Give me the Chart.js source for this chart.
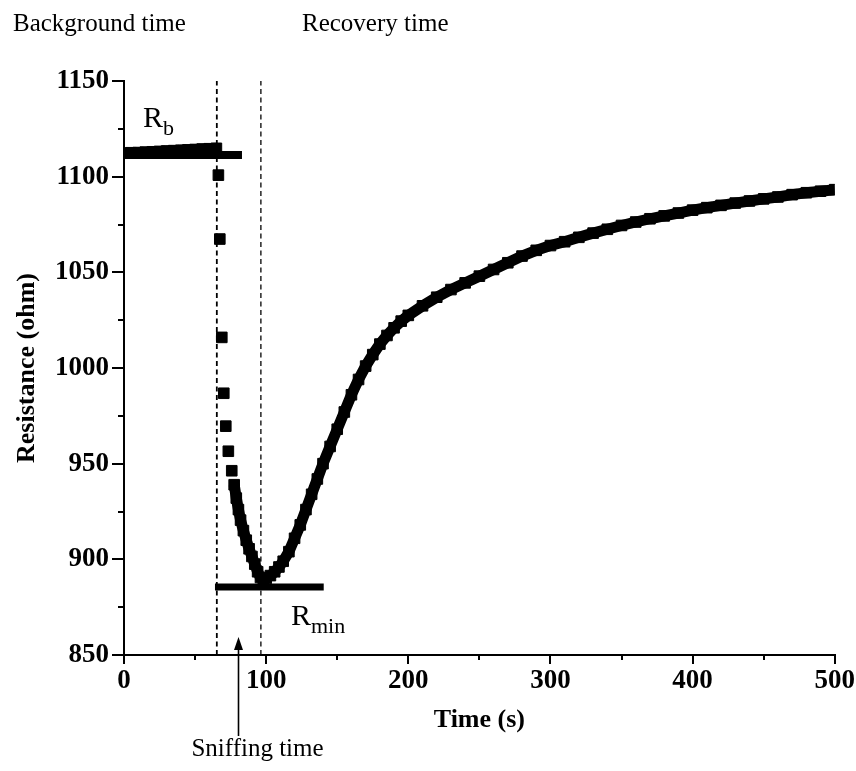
<!DOCTYPE html>
<html>
<head>
<meta charset="utf-8">
<script src="https://cdn.jsdelivr.net/npm/chart.js@4/dist/chart.umd.min.js"></script>
<style>
  html, body { margin: 0; padding: 0; background: #fff; }
  #chart { display: block; }
</style>
</head>
<body>
<canvas id="chart" width="856" height="771"></canvas>
<script>
/* ---- Data ---- */
// background (before sniffing), s / ohm
const bgTime = [0, 5, 10, 15, 20, 25, 30, 35, 40, 45, 50, 55, 60, 65];
const bgRes  = [1112.3, 1112.5, 1112.6, 1112.8, 1113.0, 1113.2, 1113.4, 1113.6, 1113.8, 1114.0, 1114.2, 1114.4, 1114.6, 1114.8];

// fast drop, separate squares
const dropTime = [66.4, 67.4, 68.8, 70.2, 71.6, 73.4, 75.8];
const dropRes  = [1100.8, 1067.4, 1016.0, 986.8, 969.6, 956.5, 946.3];

// dense part: bottom of the drop and the recovery
const recTime = [77.5, 79, 80.5, 82, 84, 86, 88, 90, 92, 94, 96, 98, 100, 103, 106, 109, 112, 116, 120, 124, 128, 132, 136, 140, 145, 150, 155, 160, 165, 170, 175, 180, 185, 190, 195, 200, 210, 220, 230, 240, 250, 260, 270, 280, 290, 300, 310, 320, 330, 340, 350, 360, 370, 380, 390, 400, 410, 420, 430, 440, 450, 460, 470, 480, 490, 500];
const recRes  = [939, 932, 926, 920.5, 915, 910, 905.5, 901.5, 897.5, 893.5, 890.5, 889.5, 890, 891.5, 893.5, 896, 899, 904, 911, 918, 926, 934, 942, 950, 959, 968, 977, 986, 994, 1001, 1007, 1012.5, 1017, 1021, 1024.5, 1027.5, 1032.5, 1037, 1041, 1044.5, 1048, 1051.5, 1055, 1058.5, 1061.5, 1064, 1066, 1068.3, 1070.5, 1072.5, 1074.5, 1076.3, 1078, 1079.5, 1081, 1082.5, 1083.8, 1085, 1086.2, 1087.3, 1088.4, 1089.4, 1090.6, 1091.6, 1092.4, 1093.2];

// reference levels and sniffing window
const rbLevel = 1111.3;
const rbSpan = [0, 83];
const rminLevel = 885.6;
const rminSpan = [64, 140.5];
const sniffStart = 65.3;
const sniffEnd = 96.3;
const arrowTime = 80;

// axes
const xRange = [0, 500];
const yRange = [850, 1150];
const xMinorTicks = [50, 150, 250, 350, 450];
const yMinorTicks = [875, 925, 975, 1025, 1075, 1125];

const SERIF = "'Liberation Serif', 'Times New Roman', serif";

function pts(xs, ys) {
  return xs.map((x, i) => ({ x, y: ys[i] }));
}

const squares = {
  pointStyle: 'rect',
  pointRadius: 7.5,
  pointBorderWidth: 1,
  pointBackgroundColor: '#000',
  pointBorderColor: '#000',
  borderColor: '#000',
};

const datasets = [
  {
    data: [{ x: sniffStart, y: yRange[0] }, { x: sniffStart, y: yRange[1] }],
    showLine: true, borderColor: '#000', borderWidth: 1.8, borderDash: [5, 3.5], pointRadius: 0,
  },
  {
    data: [{ x: sniffEnd, y: yRange[0] }, { x: sniffEnd, y: yRange[1] }],
    showLine: true, borderColor: '#000', borderWidth: 1.3, borderDash: [5, 3.5], pointRadius: 0,
  },
  {
    data: [{ x: rbSpan[0], y: rbLevel }, { x: rbSpan[1], y: rbLevel }],
    showLine: true, borderColor: '#000', borderWidth: 8, pointRadius: 0, borderCapStyle: 'butt',
  },
  {
    data: [{ x: rminSpan[0], y: rminLevel }, { x: rminSpan[1], y: rminLevel }],
    showLine: true, borderColor: '#000', borderWidth: 7, pointRadius: 0, borderCapStyle: 'butt',
  },
  Object.assign({ data: pts(bgTime, bgRes), showLine: true, borderWidth: 11, clip: 0 }, squares),
  Object.assign({ data: pts(dropTime, dropRes), showLine: false }, squares),
  Object.assign({ data: pts(recTime, recRes), showLine: true, borderWidth: 11, clip: 0 }, squares),
];

/* ---- minor ticks, labels and the arrow ---- */
const annotations = {
  id: 'annotations',
  afterDraw(chart) {
    const ctx = chart.ctx;
    const xs = chart.scales.x, ys = chart.scales.y;
    const area = chart.chartArea;
    ctx.save();
    ctx.strokeStyle = '#000';
    ctx.fillStyle = '#000';
    ctx.lineWidth = 2;

    // minor ticks (outward, shorter than major)
    ctx.beginPath();
    xMinorTicks.forEach(v => {
      const px = Math.round(xs.getPixelForValue(v));
      ctx.moveTo(px, area.bottom);
      ctx.lineTo(px, area.bottom + 5);
    });
    yMinorTicks.forEach(v => {
      const py = Math.round(ys.getPixelForValue(v));
      ctx.moveTo(area.left, py);
      ctx.lineTo(area.left - 6, py);
    });
    ctx.stroke();

    // header labels
    ctx.textBaseline = 'alphabetic';
    ctx.textAlign = 'left';
    ctx.font = `25px ${SERIF}`;
    ctx.fillText('Background time', 13, 31);
    ctx.fillText('Recovery time', 302, 31);

    // R_b
    ctx.font = `30px ${SERIF}`;
    ctx.fillText('R', 143, 127);
    ctx.font = `22px ${SERIF}`;
    ctx.fillText('b', 163, 135);

    // R_min
    ctx.font = `30px ${SERIF}`;
    ctx.fillText('R', 291, 625);
    ctx.font = `22px ${SERIF}`;
    ctx.fillText('min', 311, 633);

    // sniffing time arrow
    const ax = Math.round(xs.getPixelForValue(arrowTime)) + 0.5;
    ctx.lineWidth = 1.6;
    ctx.beginPath();
    ctx.moveTo(ax, 736);
    ctx.lineTo(ax, 646);
    ctx.stroke();
    ctx.beginPath();
    ctx.moveTo(ax, 637);
    ctx.lineTo(ax - 4.5, 650);
    ctx.lineTo(ax + 4.5, 650);
    ctx.closePath();
    ctx.fill();

    ctx.font = `25px ${SERIF}`;
    ctx.textAlign = 'center';
    ctx.fillText('Sniffing time', ax + 19, 756);
    ctx.restore();
  }
};

const tickFont = { family: SERIF, size: 27, weight: 'bold' };

new Chart(document.getElementById('chart'), {
  type: 'scatter',
  data: { datasets },
  options: {
    responsive: false,
    animation: false,
    devicePixelRatio: 1,
    layout: { padding: { top: 81, right: 20, left: 0, bottom: 0 } },
    plugins: { legend: { display: false }, tooltip: { enabled: false } },
    elements: { line: { tension: 0 } },
    scales: {
      x: {
        type: 'linear',
        min: xRange[0], max: xRange[1],
        ticks: { stepSize: 100, color: '#000', font: tickFont, padding: 1, maxRotation: 0, callback: v => String(v) },
        grid: { drawOnChartArea: false, color: '#000', lineWidth: 2, tickLength: 9 },
        border: { color: '#000', width: 2 },
        title: {
          display: true, text: 'Time (s)', color: '#000',
          font: { family: SERIF, size: 26, weight: 'bold' },
          padding: { top: 0, bottom: 35 },
        },
        afterFit(scale) { scale.height = 116; },
      },
      y: {
        type: 'linear',
        min: yRange[0], max: yRange[1],
        ticks: { stepSize: 50, color: '#000', font: tickFont, padding: 3, callback: v => String(v) },
        grid: { drawOnChartArea: false, color: '#000', lineWidth: 2, tickLength: 12 },
        border: { color: '#000', width: 2 },
        title: {
          display: true, text: 'Resistance (ohm)', color: '#000',
          font: { family: SERIF, size: 26, weight: 'bold' },
          padding: { top: 12, bottom: 0 },
        },
        afterFit(scale) { scale.width = 124; },
      },
    },
  },
  plugins: [annotations],
});
</script>
</body>
</html>
